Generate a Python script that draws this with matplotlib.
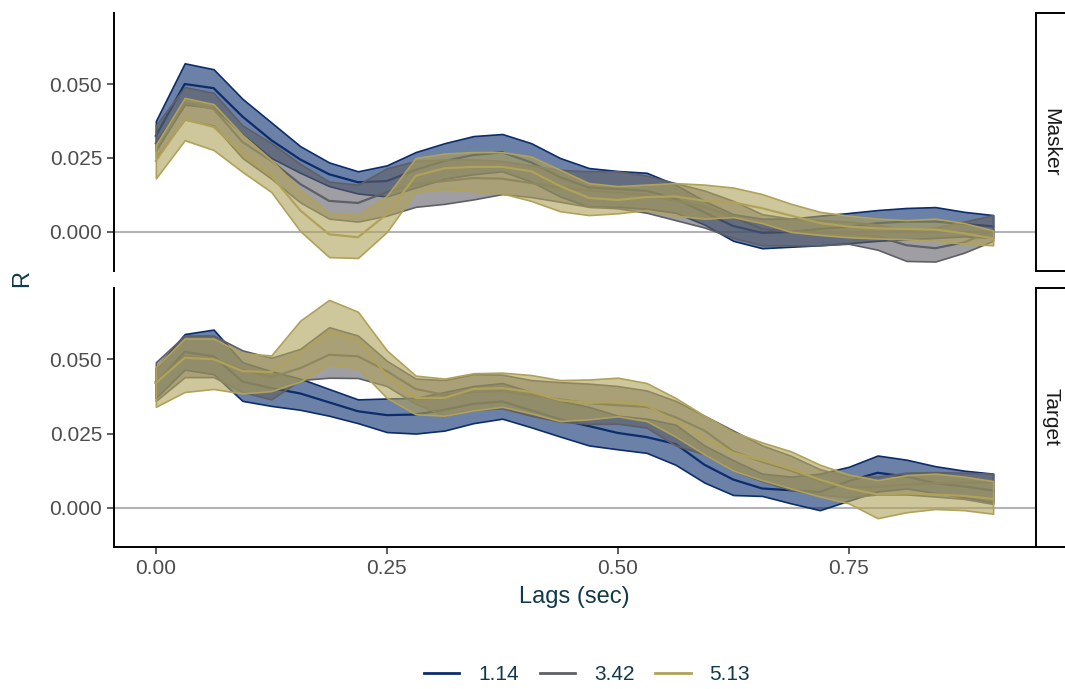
import numpy as np
import matplotlib
matplotlib.use("Agg")
import matplotlib.pyplot as plt
from matplotlib.colors import to_rgba
from matplotlib.lines import Line2D
from matplotlib.patches import Rectangle

plt.rcParams['font.family'] = ['Liberation Sans', 'DejaVu Sans']

# lag grid (sec), 1/32 s steps
lags = np.arange(30) / 32

groups = ['1.14', '3.42', '5.13']
colors = ['#0b2d6c', '#5f6066', '#b0a25a']
panels = ['Masker', 'Target']

# ---- Masker panel ----
masker_114_hi = [0.0375, 0.057, 0.055, 0.045, 0.037, 0.029, 0.0235, 0.0205, 0.0225, 0.027,
                 0.030, 0.0324, 0.0331, 0.030, 0.025, 0.0216, 0.0206, 0.020, 0.016, 0.0105,
                 0.006, 0.0045, 0.0045, 0.0055, 0.0064, 0.0074, 0.0081, 0.0084, 0.0068, 0.0057]
masker_114_mean = [0.0325, 0.050, 0.0486, 0.039, 0.031, 0.0245, 0.0195, 0.0168, 0.0172, 0.021,
                   0.024, 0.026, 0.0269, 0.0235, 0.0185, 0.015, 0.0145, 0.0139, 0.0112, 0.0066,
                   0.002, -0.0003, 0.0, 0.001, 0.0017, 0.003, 0.0035, 0.0035, 0.0027, 0.0019]
masker_114_lo = [0.0275, 0.043, 0.042, 0.033, 0.025, 0.020, 0.0155, 0.013, 0.012, 0.015,
                 0.018, 0.0195, 0.0205, 0.017, 0.012, 0.0085, 0.0085, 0.0078, 0.0065, 0.0025,
                 -0.003, -0.0055, -0.005, -0.0045, -0.0038, -0.003, -0.0025, -0.002, -0.0015, -0.002]

masker_342_hi = [0.036, 0.049, 0.047, 0.036, 0.030, 0.023, 0.017, 0.016, 0.0215, 0.024,
                 0.0245, 0.0245, 0.024, 0.0225, 0.021, 0.0205, 0.0205, 0.019, 0.0165, 0.014,
                 0.0105, 0.006, 0.0045, 0.004, 0.0035, 0.0025, 0.0005, 0.0015, 0.0035, 0.0057]
masker_342_mean = [0.030, 0.0436, 0.0416, 0.0304, 0.024, 0.0162, 0.0105, 0.0098, 0.0135, 0.0162,
                   0.0172, 0.0182, 0.018, 0.0165, 0.015, 0.014, 0.0133, 0.0125, 0.0105, 0.0085,
                   0.005, 0.001, 0.0, -0.0003, -0.0005, -0.0015, -0.0045, -0.0055, -0.0035, 0.0005]
masker_342_lo = [0.025, 0.038, 0.036, 0.025, 0.018, 0.010, 0.0045, 0.0035, 0.0055, 0.0085,
                 0.0095, 0.011, 0.0128, 0.0118, 0.0102, 0.0085, 0.008, 0.0065, 0.004, 0.0015,
                 -0.002, -0.0045, -0.0045, -0.0045, -0.004, -0.006, -0.0098, -0.010, -0.007, -0.003]

masker_513_hi = [0.0294, 0.0453, 0.0432, 0.0328, 0.0243, 0.0142, 0.0064, 0.0057, 0.0122, 0.025,
                 0.0265, 0.027, 0.027, 0.0255, 0.021, 0.0165, 0.0155, 0.016, 0.0165, 0.016,
                 0.015, 0.0128, 0.0095, 0.0068, 0.0055, 0.0045, 0.004, 0.0045, 0.003, 0.0005]
masker_513_mean = [0.024, 0.038, 0.0355, 0.0265, 0.019, 0.0073, -0.0008, -0.0018, 0.006, 0.019,
                   0.0215, 0.022, 0.022, 0.0205, 0.0155, 0.0115, 0.0108, 0.0118, 0.012, 0.0105,
                   0.010, 0.008, 0.0055, 0.003, 0.0018, 0.0012, 0.001, 0.0008, -0.0005, -0.0022]
masker_513_lo = [0.0181, 0.031, 0.0277, 0.0203, 0.0135, 0.0003, -0.0085, -0.0088, 0.0, 0.0135,
                 0.0145, 0.0138, 0.013, 0.0105, 0.007, 0.0057, 0.0063, 0.0074, 0.0055, 0.0045,
                 0.005, 0.003, 0.0, -0.001, -0.0018, -0.0022, -0.0025, -0.003, -0.004, -0.0045]

# ---- Target panel ----
target_114_hi = [0.047, 0.0585, 0.060, 0.049, 0.046, 0.0435, 0.040, 0.0365, 0.0368, 0.037,
                 0.039, 0.041, 0.042, 0.039, 0.036, 0.034, 0.031, 0.030, 0.028, 0.021,
                 0.016, 0.0115, 0.0105, 0.0115, 0.0138, 0.0176, 0.0162, 0.014, 0.0125, 0.0115]
target_114_mean = [0.042, 0.0525, 0.051, 0.0425, 0.0403, 0.0385, 0.0355, 0.0325, 0.0312, 0.0314,
                   0.033, 0.035, 0.0358, 0.0328, 0.0298, 0.0275, 0.0252, 0.0238, 0.0215, 0.0145,
                   0.0095, 0.0065, 0.0059, 0.0053, 0.009, 0.0118, 0.0105, 0.0083, 0.0072, 0.0058]
target_114_lo = [0.037, 0.0465, 0.045, 0.036, 0.0343, 0.033, 0.031, 0.0285, 0.0255, 0.025,
                 0.026, 0.0285, 0.030, 0.0271, 0.024, 0.021, 0.0197, 0.0185, 0.0145, 0.0085,
                 0.0043, 0.004, 0.0015, -0.0008, 0.0024, 0.0055, 0.0065, 0.005, 0.0035, 0.0018]

target_342_hi = [0.049, 0.058, 0.058, 0.053, 0.0505, 0.0535, 0.0608, 0.058, 0.0495, 0.0435,
                 0.043, 0.045, 0.0448, 0.043, 0.0423, 0.0418, 0.041, 0.0395, 0.036, 0.031,
                 0.026, 0.021, 0.0175, 0.013, 0.0105, 0.0105, 0.0118, 0.012, 0.0118, 0.0115]
target_342_mean = [0.0425, 0.051, 0.050, 0.0465, 0.044, 0.047, 0.0515, 0.051, 0.046, 0.040,
                   0.038, 0.039, 0.0393, 0.0378, 0.0365, 0.0352, 0.0345, 0.034, 0.0305, 0.026,
                   0.019, 0.0155, 0.0125, 0.009, 0.007, 0.007, 0.0078, 0.0083, 0.0085, 0.0085]
target_342_lo = [0.036, 0.044, 0.044, 0.039, 0.0365, 0.043, 0.0438, 0.0437, 0.041, 0.035,
                 0.031, 0.033, 0.0335, 0.031, 0.029, 0.0283, 0.0283, 0.027, 0.021, 0.018,
                 0.0125, 0.009, 0.006, 0.0045, 0.0035, 0.0045, 0.0045, 0.0038, 0.003, 0.0013]

target_513_hi = [0.0474, 0.057, 0.057, 0.052, 0.0513, 0.063, 0.070, 0.066, 0.053, 0.0445,
                 0.0435, 0.0453, 0.0455, 0.0447, 0.043, 0.0432, 0.0438, 0.042, 0.037, 0.031,
                 0.0255, 0.022, 0.019, 0.0145, 0.0112, 0.0093, 0.011, 0.0115, 0.0105, 0.009]
target_513_mean = [0.042, 0.0505, 0.050, 0.046, 0.0457, 0.052, 0.059, 0.0565, 0.0445, 0.037,
                   0.037, 0.040, 0.0403, 0.039, 0.0362, 0.0353, 0.0358, 0.0345, 0.029, 0.0235,
                   0.0185, 0.016, 0.013, 0.0095, 0.0065, 0.0045, 0.0048, 0.0045, 0.004, 0.003]
target_513_lo = [0.034, 0.039, 0.040, 0.0385, 0.0393, 0.0425, 0.0482, 0.047, 0.037, 0.0315,
                 0.031, 0.0328, 0.034, 0.0318, 0.0292, 0.0298, 0.0308, 0.0292, 0.024, 0.018,
                 0.0125, 0.0093, 0.0065, 0.0038, 0.0015, -0.0035, -0.0015, -0.0004, -0.0008, -0.002]

series = {
    'Masker': [(masker_114_lo, masker_114_mean, masker_114_hi),
               (masker_342_lo, masker_342_mean, masker_342_hi),
               (masker_513_lo, masker_513_mean, masker_513_hi)],
    'Target': [(target_114_lo, target_114_mean, target_114_hi),
               (target_342_lo, target_342_mean, target_342_hi),
               (target_513_lo, target_513_mean, target_513_hi)],
}

W, H = 1065, 689
fig = plt.figure(figsize=(W / 100, H / 100), dpi=100)

left = 114 / W
width = (1035 - 114) / W
panel_px = [(13, 271), (288, 547)]

tick_col = '#4d4d4d'
title_col = '#12394a'

axes = []
for k, name in enumerate(panels):
    top_px, bot_px = panel_px[k]
    ax = fig.add_axes([left, 1 - bot_px / H, width, (bot_px - top_px) / H])
    axes.append(ax)

    ax.axhline(0, color='#b3b3b3', lw=1.5, zorder=1)
    for (lo, mean, hi), col in zip(series[name], colors):
        ax.fill_between(lags, lo, hi, facecolor=to_rgba(col, 0.6), edgecolor=col,
                        linewidth=1.2, zorder=2)
        ax.plot(lags, mean, color=col, lw=1.6, zorder=2)

    ax.set_xlim(-0.0453, 0.9516)
    ax.set_ylim(-0.0132, 0.074)
    ax.set_yticks([0.0, 0.025, 0.05])
    ax.set_yticklabels(['0.000', '0.025', '0.050'])
    for s in ['top', 'right']:
        ax.spines[s].set_visible(False)
    ax.spines['left'].set_linewidth(1.4)
    ax.spines['bottom'].set_linewidth(1.4)
    ax.tick_params(axis='both', colors='#333333', labelcolor=tick_col, labelsize=15,
                   length=5, width=1.1, direction='out')

    # facet strip on the right
    fy = 1 - bot_px / H
    fh = (bot_px - top_px) / H
    rect = Rectangle((1036 / W, fy), 0.05, fh, transform=fig.transFigure,
                     facecolor='white', edgecolor='black', lw=1.4, clip_on=False)
    fig.patches.append(rect)
    fig.text(1051 / W, fy + fh / 2, name, rotation=270, ha='center', va='center',
             fontsize=15, color='#1a1a1a')

axes[0].spines['bottom'].set_visible(False)
axes[0].tick_params(axis='x', bottom=False, labelbottom=False)
axes[1].set_xticks([0.0, 0.25, 0.5, 0.75])
axes[1].set_xticklabels(['0.00', '0.25', '0.50', '0.75'])
axes[1].set_xlabel('Lags (sec)', fontsize=17, color=title_col, labelpad=6)

fig.text(22 / W, 1 - 279 / H, 'R', rotation=90, ha='center', va='center',
         fontsize=17, color=title_col)

handles = [Line2D([0], [0], color=c, lw=2) for c in colors]
fig.legend(handles, groups, loc='center', bbox_to_anchor=(587 / W, 1 - 675 / H), ncol=3,
           frameon=False, fontsize=15, handlelength=1.7, handletextpad=0.9,
           columnspacing=1.0, labelcolor=title_col)

fig.savefig('out.png', dpi=100)
